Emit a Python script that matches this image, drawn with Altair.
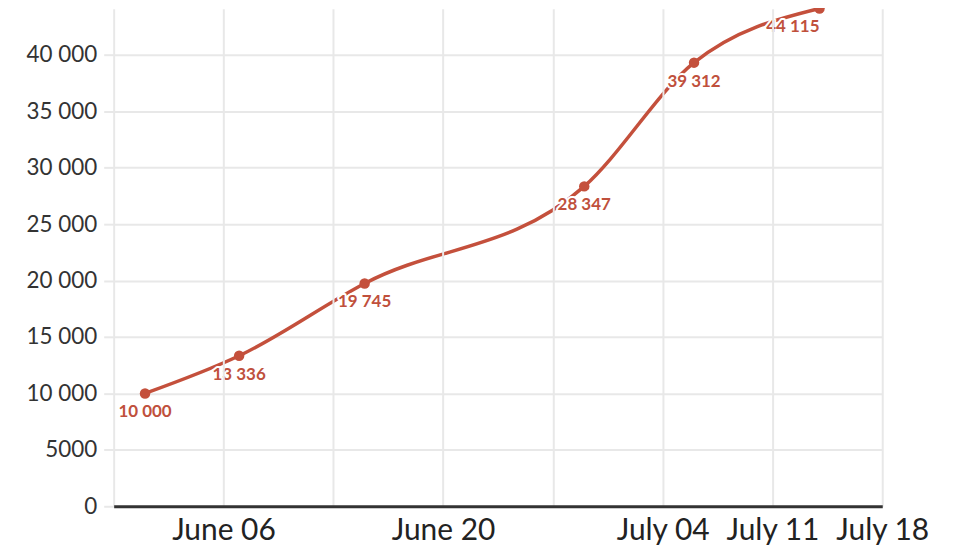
import altair as alt
import pandas as pd

dates = ["2022-06-01", "2022-06-07", "2022-06-15", "2022-06-29", "2022-07-06", "2022-07-14"]
values = [10000, 13336, 19745, 28347, 39312, 44115]
week_ticks = ["2022-05-30", "2022-06-06", "2022-06-13", "2022-06-20", "2022-06-27",
              "2022-07-04", "2022-07-11", "2022-07-18"]
y_ticks = [0, 5000, 10000, 15000, 20000, 25000, 30000, 35000, 40000, 45000]

df = pd.DataFrame({"date": dates, "value": values})
df["label"] = [f"{v:,}".replace(",", " ") for v in values]
df_main = df.iloc[:-1]
df_last = df.iloc[-1:]

LINE = "#c4503c"
LABEL = "#c0503c"
GRID = "#e8e8e8"
FONT = "Lato"


def dt(s):
    y, m, d = (int(p) for p in s.split("-"))
    return alt.DateTime(year=y, month=m, date=d, utc=True)


x = alt.X(
    "date:T",
    scale=alt.Scale(type="utc", domain=[dt(week_ticks[0]), dt(week_ticks[-1])]),
    axis=alt.Axis(
        title=None,
        values=[dt(s) for s in week_ticks],
        labelExpr="(utcdate(datum.value)==13 || utcdate(datum.value)==27 || utcdate(datum.value)==30) ? '' : utcFormat(datum.value, '%B %d')",
        labelFont=FONT, labelFontSize=30, labelColor="#222", labelPadding=9,
        labelOverlap=False, labelFlush=False,
        ticks=False, domain=True, domainColor="#333", domainWidth=3,
        grid=True, gridColor=GRID, gridWidth=2, zindex=1,
    ),
)
y = alt.Y(
    "value:Q",
    scale=alt.Scale(domain=[0, 44080], nice=False, zero=True),
    axis=alt.Axis(
        title=None,
        values=y_ticks,
        labelExpr="datum.value >= 10000 ? replace(format(datum.value, ','), ',', ' ') : format(datum.value, 'd')",
        labelFont=FONT, labelFontSize=22.5, labelColor="#333", labelPadding=7,
        ticks=True, tickColor=GRID, tickSize=10, tickWidth=2,
        domain=False, grid=True, gridColor=GRID, gridWidth=2,
    ),
)

base = alt.Chart(df).encode(x=x, y=y)
line = base.mark_line(color=LINE, strokeWidth=3.5, interpolate="monotone")
pts = base.mark_point(filled=True, color=LINE, size=110, opacity=1)

def labels(data, align, dx):
    b = alt.Chart(data).encode(x=x, y=y, text="label:N")
    halo = b.mark_text(align=align, dx=dx, dy=19, font=FONT, fontSize=17, fontWeight="bold",
                       stroke="white", strokeWidth=4, fill="white", strokeJoin="round")
    txt = b.mark_text(align=align, dx=dx, dy=19, font=FONT, fontSize=17, fontWeight="bold",
                      color=LABEL)
    return halo + txt

chart = alt.layer(
    line, pts, labels(df_main, "center", 0), labels(df_last, "right", 0)
).properties(
    width=771, height=499,
    autosize=alt.AutoSizeParams(type="none"),
    padding={"left": 106, "top": 0, "right": 80, "bottom": 40},
).configure_view(stroke=None)

chart.save("out.html", embed_options={"renderer": "svg", "actions": False})
